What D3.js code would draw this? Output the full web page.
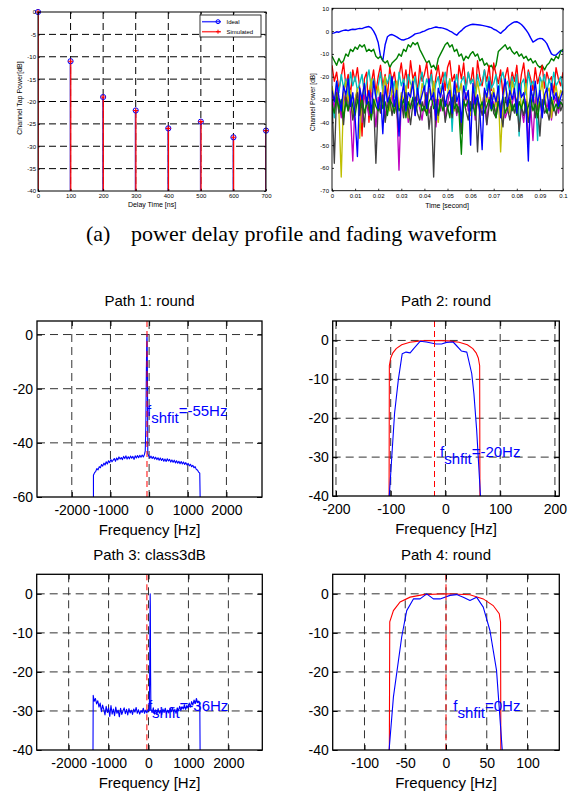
<!DOCTYPE html>
<html><head><meta charset="utf-8">
<script src="https://cdn.jsdelivr.net/npm/d3@7"></script>
<style>body{margin:0;background:#fff}svg{display:block}</style>
</head><body>
<script>
// ---------------- DATA ----------------
// (top-left) power delay profile
const delaysNs = [0,100,200,300,400,500,600,700];
const idealPowerDb = [0,-11,-19,-22,-26,-24.5,-28,-26.5];
const simulatedPowerDb = [0,-11,-19,-22,-26,-24.5,-28,-26.5];
const pdpXTicks = [0,100,200,300,400,500,600,700];
const pdpYTicks = [0,-5,-10,-15,-20,-25,-30,-35,-40];

// (top-right) fading waveforms, samples evenly spread over 0..0.1 s
const fadeTicksX = [0,0.01,0.02,0.03,0.04,0.05,0.06,0.07,0.08,0.09,0.1];
const fadeTicksY = [10,0,-10,-20,-30,-40,-50,-60,-70];
const fadePath1 = [-1,-0.8,-0.3,-0.5,0,0.3,0.5,0.2,0.6,0.8,0.7,1.0,1.2,1.1,1.5,1.8,2.0,1.4,0,-2,-5,-11,-13,-6,-2.5,-1.7,-1.5,-2,-2.5,-3.2,-3.8,-3.9,-3.5,-3.2,-2.6,-2,-1.2,-1,-0.8,-0.3,0,0.5,1.0,1.2,1.5,1.8,1.6,1.5,1.3,1.0,0.6,0,-0.5,-1.2,-1.8,-0.6,0.2,1.2,2.0,2.4,2.8,3.0,2.9,2.8,2.7,2.5,2.3,2.1,1.8,1.5,0.8,0.4,-0.3,-1.0,0,0.8,2.0,2.8,3.5,4.0,4.1,3.6,2.9,1.8,0.5,-1.0,-3.0,-4.8,-4.2,-3.5,-3.2,-3.3,-4.2,-5.5,-7.8,-10,-10.6,-10.5,-9.5,-8.5,-9];
const fadePath2 = [-11,-13,-15,-12,-14,-13,-10,-11,-8,-9,-7,-8,-6,-7,-6,-9,-8,-9,-8,-11,-12,-11,-13,-14,-13,-16,-14,-13,-12,-10,-11,-8,-9,-6,-7,-5,-6,-5,-8,-10,-12,-14,-13,-16,-15,-17,-12,-10,-8,-6,-5,-7,-6,-9,-8,-11,-10,-13,-11,-12,-10,-9,-11,-10,-13,-12,-15,-14,-16,-15,-17,-15,-9,-8,-7,-6,-8,-7,-9,-10,-9,-11,-10,-12,-11,-13,-12,-14,-13,-15,-16,-15,-17,-15,-14,-12,-13,-11,-12,-9,-8];
const fadePath3 = [-15,-22,-18,-26,-20,-14,-24,-19,-28,-17,-22,-16,-25,-46,-21,-18,-40,-23,-17,-27,-20,-15,-24,-19,-29,-16,-22,-18,-26,-20,-14,-23,-17,-25,-13,-21,-18,-27,-15,-22,-19,-14,-24,-17,-28,-20,-15,-23,-18,-26,-16,-13,-22,-19,-27,-15,-21,-14,-25,-18,-23,-16,-29,-13,-20,-24,-17,-22,-15,-26,-14,-19,-23,-17,-28,-20,-16,-25,-18,-22,-15,-27,-19,-14,-24,-17,-21,-26,-16,-23,-19,-15,-25,-18,-22,-20,-27,-16,-21,-24,-18];
const fadePath4 = [-30,-38,-22,-27,-19,-25,-21,-29,-18,-24,-20,-26,-23,-19,-28,-22,-17,-25,-21,-30,-24,-18,-27,-20,-23,-19,-26,-22,-31,-18,-24,-21,-27,-19,-23,-25,-20,-28,-22,-18,-26,-21,-24,-19,-29,-23,-20,-27,-22,-18,-25,-21,-44,-24,-19,-27,-22,-20,-26,-18,-23,-21,-28,-19,-24,-22,-17,-26,-20,-25,-23,-19,-29,-21,-18,-24,-22,-27,-20,-25,-19,-46,-23,-21,-28,-18,-24,-22,-26,-48,-20,-23,-19,-27,-21,-25,-18,-24,-22,-20,-26];
const fadePath5 = [-28,-34,-25,-31,-38,-27,-33,-29,-36,-57,-30,-26,-35,-40,-28,-32,-37,-27,-31,-42,-29,-34,-26,-38,-30,-33,-28,-36,-31,-61,-29,-35,-27,-40,-32,-30,-37,-28,-34,-39,-31,-27,-36,-33,-29,-42,-30,-35,-28,-38,-32,-26,-34,-30,-37,-29,-44,-31,-27,-35,-33,-28,-39,-30,-36,-32,-27,-41,-29,-34,-31,-37,-28,-33,-30,-38,-35,-29,-32,-27,-36,-31,-34,-40,-30,-50,-33,-48,-29,-35,-31,-37,-28,-34,-30,-39,-32,-29,-36,-31,-33];
const fadePath6 = [-24,-30,-27,-35,-64,-28,-22,-31,-26,-38,-30,-25,-47,-29,-23,-33,-27,-21,-36,-28,-24,-32,-26,-20,-30,-35,-25,-29,-22,-34,-27,-31,-24,-38,-26,-21,-30,-28,-33,-23,-27,-36,-25,-29,-22,-31,-40,-26,-24,-33,-28,-21,-30,-35,-25,-27,-23,-32,-29,-26,-37,-24,-30,-22,-28,-34,-26,-31,-23,-29,-25,-33,-27,-53,-30,-24,-28,-36,-22,-27,-31,-25,-34,-29,-23,-40,-26,-30,-24,-35,-28,-22,-32,-27,-25,-38,-29,-24,-31,-26,-28];
const fadePath7 = [-30,-58,-27,-36,-32,-41,-28,-35,-30,-39,-33,-27,-37,-31,-42,-29,-34,-38,-30,-58,-32,-36,-28,-40,-33,-29,-37,-31,-35,-44,-30,-38,-27,-34,-41,-32,-29,-36,-39,-31,-35,-28,-43,-33,-64,-30,-37,-32,-29,-40,-34,-31,-38,-28,-36,-33,-45,-30,-35,-39,-31,-34,-29,-53,-32,-37,-30,-41,-33,-28,-36,-38,-31,-35,-42,-29,-34,-39,-32,-36,-30,-44,-33,-37,-31,-40,-35,-28,-38,-32,-46,-30,-36,-34,-39,-31,-33,-37,-29,-35,-32];
const fadePath8 = [-32,-36,-29,-34,-30,-38,-31,-35,-28,-33,-37,-30,-34,-29,-36,-32,-31,-39,-30,-33,-35,-28,-34,-31,-37,-30,-32,-36,-29,-35,-33,-30,-38,-31,-34,-29,-36,-32,-30,-35,-33,-37,-31,-29,-34,-32,-36,-30,-35,-31,-33,-38,-29,-34,-32,-36,-54,-31,-33,-30,-35,-32,-37,-29,-34,-31,-36,-33,-30,-35,-32,-38,-31,-34,-29,-36,-33,-30,-35,-32,-37,-31,-34,-30,-36,-33,-29,-35,-32,-38,-31,-34,-30,-36,-33,-29,-35,-32,-34,-31,-33];
const fadePath9 = [-26,-31,-22,-29,-35,-24,-28,-21,-33,-27,-38,-55,-25,-30,-23,-32,-26,-36,-22,-29,-34,-27,-45,-24,-31,-28,-20,-33,-26,-46,-30,-23,-35,-27,-29,-22,-37,-25,-32,-28,-24,-34,-21,-30,-27,-39,-25,-29,-23,-33,-28,-26,-36,-22,-31,-27,-40,-24,-30,-26,-50,-23,-32,-28,-35,-52,-25,-29,-22,-34,-27,-31,-24,-38,-28,-21,-33,-26,-30,-25,-36,-23,-29,-27,-34,-57,-24,-31,-22,-32,-26,-38,-28,-25,-35,-23,-30,-27,-33,-29,-26];
const fadeSeries = [fadePath1,fadePath2,fadePath3,fadePath4,fadePath5,fadePath6,fadePath7,fadePath8,fadePath9];
const fadeColors = ['#0000ff','#008000','#ff0000','#00bfbf','#bf00bf','#bfbf00','#404040','#008000','#0000ff'];

// (bottom) Doppler spectra: [frequency Hz, power dB]
const spec1Sim = [[-1440,-60],[-1440,-52],[-1410,-51],[-1380,-50.5],[-1350,-49.5],[-1320,-50],[-1290,-48.8],[-1260,-49.2],[-1230,-48],[-1200,-48.6],[-1170,-47.5],[-1140,-48.2],[-1110,-47],[-1080,-47.8],[-1050,-46.6],[-1020,-47.3],[-990,-46.2],[-960,-47],[-930,-46.4],[-900,-45.8],[-870,-46.8],[-840,-45.6],[-810,-46.3],[-780,-45.2],[-750,-46],[-720,-45.4],[-690,-46.2],[-660,-45],[-630,-45.8],[-600,-44.8],[-570,-46],[-540,-45.1],[-510,-45.9],[-480,-44.9],[-450,-45.7],[-420,-45],[-390,-46.1],[-360,-44.8],[-330,-45.6],[-300,-44.7],[-270,-45.5],[-240,-44.6],[-210,-45.3],[-180,-44.5],[-150,-45.2],[-120,-44.3],[-100,-43],[-85,-34],[-70,-12],[-60,-2],[-55,0],[-50,-3],[-42,-18],[-34,-44],[-10,-44.8],[20,-45.6],[50,-44.9],[80,-45.8],[110,-45.1],[140,-46],[170,-45.3],[200,-46.2],[230,-45.5],[260,-46.4],[290,-45.6],[320,-46.5],[350,-45.8],[380,-46.8],[410,-46],[440,-46.9],[470,-45.9],[500,-46.7],[530,-46.1],[560,-47.1],[590,-46.3],[620,-47.2],[650,-46.4],[680,-47.4],[710,-46.6],[740,-47.5],[770,-46.8],[800,-47.7],[830,-46.9],[860,-47.8],[890,-47.1],[920,-48],[950,-47.3],[980,-48.2],[1010,-47.6],[1040,-48.5],[1070,-47.9],[1100,-48.8],[1130,-48.3],[1160,-49.2],[1190,-48.8],[1220,-49.8],[1250,-50],[1280,-50.8],[1310,-51.2],[1320,-60]];
const spec2Sim = [[-102.6,-40],[-93,-18.8],[-86,-10],[-79,-3.4],[-72,-3],[-64.5,-3.2],[-58,-2.1],[-46,-0.2],[-35,-0.4],[-17,-0.9],[-7,-0.9],[2,-0.5],[14,-0.4],[20,-1.3],[29,-2.7],[39,-3],[48,-8.5],[52,-13.7],[57,-23],[64,-40]];
const spec2Theory = [[-103,-40],[-102.5,-6.5],[-100,-4.5],[-96,-3.2],[-90,-2.1],[-80,-1.1],[-65,-0.45],[-45,-0.1],[-20,0],[5,-0.1],[25,-0.45],[40,-1.1],[50,-2.1],[56,-3.2],[60,-4.5],[62.5,-6.5],[63,-40]];
const spec3Sim = [[-1390,-40],[-1385,-26],[-1360,-27.5],[-1330,-26.8],[-1300,-28.2],[-1270,-27.4],[-1240,-29],[-1210,-28],[-1180,-30.2],[-1150,-28.5],[-1120,-29.6],[-1090,-31],[-1060,-28.8],[-1030,-30.4],[-1000,-29.2],[-970,-31.4],[-940,-28.6],[-910,-30.8],[-880,-29.5],[-850,-31.2],[-820,-29],[-790,-30.6],[-760,-29.8],[-730,-31.5],[-700,-29.3],[-670,-30.9],[-640,-30],[-610,-29.2],[-580,-30.7],[-550,-29.6],[-520,-31],[-490,-29.4],[-460,-30.5],[-430,-29.8],[-400,-30.9],[-370,-29.5],[-340,-30.3],[-310,-29.1],[-280,-30.6],[-250,-29.7],[-220,-30.8],[-190,-29.9],[-160,-30.4],[-130,-29.3],[-100,-30.6],[-70,-29.8],[-40,-30.5],[-10,-29.6],[20,-30],[30,-20],[38,-5],[42,0],[46,-3],[52,-20],[60,-29.5],[90,-30.4],[120,-29.2],[150,-30.8],[180,-29.7],[210,-30.9],[240,-29.4],[270,-30.6],[300,-29.9],[330,-31],[360,-29.5],[390,-30.4],[420,-29.3],[450,-30.7],[480,-29.8],[510,-30.5],[540,-29.4],[570,-30.2],[600,-29.1],[630,-30.3],[660,-29.6],[690,-30.6],[720,-29.2],[750,-30],[780,-28.8],[810,-29.9],[840,-28.9],[870,-29.5],[900,-28.4],[930,-29.6],[960,-28.6],[990,-29.2],[1020,-28],[1050,-29],[1080,-27.6],[1110,-28.5],[1140,-27.2],[1170,-28.1],[1200,-26.8],[1230,-27.9],[1260,-27.5],[1285,-28.5],[1292,-40]];
const spec4Sim = [[-69.8,-40],[-64.5,-26.4],[-54.3,-11],[-48.2,-4.3],[-40,-1.3],[-31.8,-1.3],[-23.7,0],[-15.5,-1.3],[-7.3,-1.3],[4.9,-0.4],[13,-0.2],[21.2,-0.85],[29.4,-1.7],[37.5,-0.85],[45.7,-3.4],[53.9,-9.4],[62,-19.6],[69,-40]];
const spec4Theory = [[-69.5,-40],[-69,-7.2],[-64.5,-4.3],[-56.3,-2.1],[-44,-0.85],[-27.7,-0.2],[0.8,0],[29.4,-0.25],[45.7,-1.3],[57.9,-3],[65.3,-5.1],[66.9,-7.2],[67.3,-40]];
const shiftHz = [-55,-20,-40,0];
const shiftLabels = ['=-55Hz','=-20Hz','=-36Hz','=0Hz'];
const titles = ['Path 1: round','Path 2: round','Path 3: class3dB','Path 4: round'];
const wideTicksX = [-2000,-1000,0,1000,2000];
const p2TicksX = [-200,-100,0,100,200];
const p4TicksX = [-100,-50,0,50,100];
const p1TicksY = [0,-20,-40,-60];
const dbTicks40 = [0,-10,-20,-30,-40];

// ---------------- DRAWING ----------------
const W = 577, H = 796;
const FONT = '"Liberation Sans", Arial, sans-serif';
const svg = d3.select('body').append('svg').attr('width', W).attr('height', H);
svg.append('rect').attr('width', W).attr('height', H).attr('fill', '#fff');
const defs = svg.append('defs');
let clipN = 0;

function makePanel(o) {
  const x = d3.scaleLinear().domain(o.xd).range([o.l, o.r]);
  const y = d3.scaleLinear().domain(o.yd).range([o.b, o.t]);
  const g = svg.append('g');
  const id = 'clip' + (clipN++);
  defs.append('clipPath').attr('id', id).append('rect')
    .attr('x', o.l).attr('y', o.t).attr('width', o.r - o.l).attr('height', o.b - o.t);
  if (o.grid) {
    const gg = g.append('g').attr('stroke', o.gridColor).attr('stroke-width', o.gridW)
      .attr('stroke-dasharray', o.dash).attr('fill', 'none');
    gg.selectAll('line.gx').data(o.xt.filter(v => x(v) > o.l + 0.5 && x(v) < o.r - 0.5)).join('line')
      .attr('class', 'gx').attr('x1', d => x(d)).attr('x2', d => x(d)).attr('y1', o.t).attr('y2', o.b);
    gg.selectAll('line.gy').data(o.yt.filter(v => y(v) > o.t + 0.5 && y(v) < o.b - 0.5)).join('line')
      .attr('class', 'gy').attr('y1', d => y(d)).attr('y2', d => y(d)).attr('x1', o.l).attr('x2', o.r);
  }
  const plot = g.append('g').attr('clip-path', `url(#${id})`);
  return { x, y, g, plot, o };
}

function finishAxes(p) {
  const { x, y, g, o } = p;
  const fmt = d => String(d);
  const xb = g.append('g').attr('transform', `translate(0,${o.b})`)
    .call(d3.axisBottom(x).tickValues(o.xt).tickFormat(fmt).tickSize(-o.tl).tickPadding(o.xpad));
  const xt = g.append('g').attr('transform', `translate(0,${o.t})`)
    .call(d3.axisTop(x).tickValues(o.xt).tickFormat('').tickSize(-o.tl));
  const yl = g.append('g').attr('transform', `translate(${o.l},0)`)
    .call(d3.axisLeft(y).tickValues(o.yt).tickFormat(fmt).tickSize(-o.tl).tickPadding(o.ypad));
  const yr = g.append('g').attr('transform', `translate(${o.r},0)`)
    .call(d3.axisRight(y).tickValues(o.yt).tickFormat('').tickSize(-o.tl));
  [xb, xt, yl, yr].forEach(a => {
    a.select('.domain').remove();
    a.attr('font-size', o.fs).attr('font-family', FONT);
    a.selectAll('line').attr('stroke', '#000').attr('stroke-width', o.tw);
    a.selectAll('text').attr('fill', '#000');
  });
  g.append('rect').attr('x', o.l).attr('y', o.t).attr('width', o.r - o.l).attr('height', o.b - o.t)
    .attr('fill', 'none').attr('stroke', '#000').attr('stroke-width', o.bw);
}

function addText(x, y, str, size, opts = {}) {
  const t = svg.append('text').attr('x', x).attr('y', y).text(str)
    .attr('font-size', size).attr('font-family', opts.family || FONT)
    .attr('fill', opts.fill || '#000').attr('text-anchor', opts.anchor || 'middle');
  if (opts.rotate) t.attr('transform', `rotate(-90,${x},${y})`);
  return t;
}

// ---- Panel A: power delay profile ----
const pA = makePanel({ l: 38, r: 266, t: 12, b: 191, xd: [0, 700], yd: [-40, 0],
  xt: pdpXTicks, yt: pdpYTicks, grid: true, gridColor: '#000', gridW: 1, dash: '7,4',
  tl: 2, tw: 0.8, fs: 6, xpad: 3, ypad: 2, bw: 1 });
pA.plot.selectAll('line.stemB').data(delaysNs).join('line').attr('class', 'stemB')
  .attr('x1', d => pA.x(d) - 0.4).attr('x2', d => pA.x(d) - 0.4)
  .attr('y1', (d, i) => pA.y(idealPowerDb[i])).attr('y2', pA.y(-40))
  .attr('stroke', '#6040c0').attr('stroke-width', 1.2);
pA.plot.selectAll('line.stemR').data(delaysNs).join('line').attr('class', 'stemR')
  .attr('x1', d => pA.x(d) + 0.2).attr('x2', d => pA.x(d) + 0.2)
  .attr('y1', (d, i) => pA.y(simulatedPowerDb[i])).attr('y2', pA.y(-40))
  .attr('stroke', '#ff0000').attr('stroke-width', 1.2);
pA.g.selectAll('circle.ideal').data(delaysNs).join('circle').attr('class', 'ideal')
  .attr('cx', d => pA.x(d)).attr('cy', (d, i) => pA.y(idealPowerDb[i])).attr('r', 2.6)
  .attr('fill', 'none').attr('stroke', '#0000ff').attr('stroke-width', 1);
pA.g.selectAll('path.sim').data(delaysNs).join('path').attr('class', 'sim')
  .attr('d', (d, i) => { const cx = pA.x(d), cy = pA.y(simulatedPowerDb[i]);
    return `M${cx - 2.5},${cy}H${cx + 2.5}M${cx},${cy - 2.5}V${cy + 2.5}`; })
  .attr('stroke', '#ff0000').attr('stroke-width', 1.1);
finishAxes(pA);
// legend
const lg = svg.append('g');
lg.append('rect').attr('x', 200).attr('y', 15).attr('width', 61).attr('height', 22)
  .attr('fill', '#fff').attr('stroke', '#000').attr('stroke-width', 0.8);
lg.append('line').attr('x1', 202).attr('x2', 221).attr('y1', 21.7).attr('y2', 21.7).attr('stroke', '#4040ff').attr('stroke-width', 1.5);
lg.append('circle').attr('cx', 218).attr('cy', 21.7).attr('r', 2).attr('fill', 'none').attr('stroke', '#0000ff');
lg.append('line').attr('x1', 202).attr('x2', 221).attr('y1', 31.7).attr('y2', 31.7).attr('stroke', '#ff4040').attr('stroke-width', 1.5);
lg.append('path').attr('d', 'M216,31.7H220M218,29.7V33.7').attr('stroke', '#ff0000').attr('stroke-width', 1);
addText(226.5, 23.8, 'Ideal', 6, { anchor: 'start' });
addText(226.5, 33.8, 'Simulated', 6, { anchor: 'start' });
addText(152, 207, 'Delay Time [ns]', 7);
addText(21.5, 98, 'Channel Tap Power[dB]', 7, { rotate: true });

// ---- Panel B: fading waveforms ----
const pB = makePanel({ l: 332, r: 563, t: 8.3, b: 190.7, xd: [0, 0.1], yd: [-70, 10],
  xt: fadeTicksX, yt: fadeTicksY, grid: false, tl: 2, tw: 0.8, fs: 6, xpad: 3, ypad: 3, bw: 0.9 });
fadeSeries.forEach((s, k) => {
  const n = s.length;
  const line = d3.line().x((d, i) => pB.x(i / (n - 1) * 0.1)).y(d => pB.y(d));
  pB.plot.append('path').attr('d', line(s)).attr('fill', 'none')
    .attr('stroke', fadeColors[k]).attr('stroke-width', k < 2 ? 1.4 : 1.35).attr('stroke-linejoin', 'round');
});
finishAxes(pB);
addText(447, 208, 'Time [second]', 7);
addText(315, 102, 'Channel Power [dB]', 6.5, { rotate: true });

// caption
addText(86, 241, '(a)', 22, { anchor: 'start', family: '"Liberation Serif", "Times New Roman", serif' });
addText(131, 241, 'power delay profile and fading waveform', 22, { anchor: 'start', family: '"Liberation Serif", "Times New Roman", serif' });

// ---- Bottom spectra ----
const bottomCfg = [
  { l: 37, r: 262, t: 321, b: 497, xd: [-2900, 2920], yd: [-60, 5], xt: wideTicksX, yt: p1TicksY, sim: spec1Sim, th: null, tx: -55, titleY: 306 },
  { l: 332.7, r: 559.3, t: 321, b: 496, xd: [-206, 208], yd: [-40, 5], xt: p2TicksX, yt: dbTicks40, sim: spec2Sim, th: spec2Theory, tx: -10, titleY: 306 },
  { l: 36.7, r: 262.3, t: 574.3, b: 750, xd: [-2800, 2850], yd: [-40, 5], xt: wideTicksX, yt: dbTicks40, sim: spec3Sim, th: null, tx: -15, titleY: 560 },
  { l: 332.7, r: 559.3, t: 574.3, b: 750, xd: [-139, 139], yd: [-40, 5], xt: p4TicksX, yt: dbTicks40, sim: spec4Sim, th: spec4Theory, tx: 9, titleY: 560 }
];
bottomCfg.forEach((c, k) => {
  const p = makePanel(Object.assign({ grid: true, gridColor: '#333', gridW: 1, dash: '8,5',
    tl: 5, tw: 1, fs: 14, xpad: 8, ypad: 4, bw: 1.3 }, c));
  const line = d3.line().x(d => p.x(d[0])).y(d => p.y(d[1]));
  if (c.th) p.plot.append('path').attr('d', line(c.th)).attr('fill', 'none').attr('stroke', '#ff0000').attr('stroke-width', 1.1);
  p.plot.append('path').attr('d', line(c.sim)).attr('fill', 'none').attr('stroke', '#0000ff').attr('stroke-width', 1.1).attr('stroke-linejoin', 'round');
  p.plot.append('line').attr('x1', p.x(shiftHz[k])).attr('x2', p.x(shiftHz[k])).attr('y1', c.t).attr('y2', c.b)
    .attr('stroke', '#ff0000').attr('stroke-width', 1).attr('stroke-dasharray', '6,4');
  finishAxes(p);
  // annotation
  const t = svg.append('text').attr('x', p.x(c.tx)).attr('y', p.y(-30)).attr('fill', '#0000ff')
    .attr('font-size', 15).attr('font-family', FONT);
  t.append('tspan').text('f');
  t.append('tspan').attr('dy', 7).text('shfit');
  t.append('tspan').attr('dy', -7).text(shiftLabels[k]);
  addText((c.l + c.r) / 2, c.titleY, titles[k], 15);
  addText((c.l + c.r) / 2, c.b + 38, 'Frequency [Hz]', 15);
});
</script>
</body></html>
